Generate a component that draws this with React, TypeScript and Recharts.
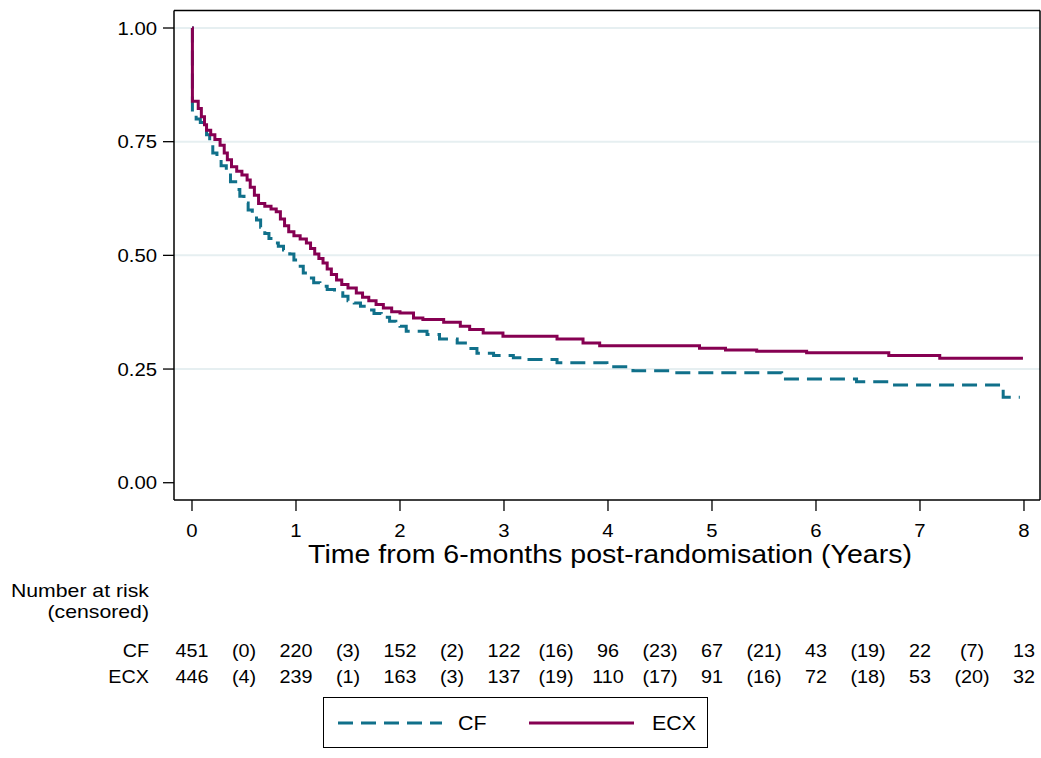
import {
    CartesianGrid,
    Label,
    Legend,
    Line,
    LineChart,
    ReferenceLine,
    XAxis,
    YAxis,
} from "recharts";

// Kaplan-Meier step points (years, survival)
const cfTimes = [
    0, 0.004, 0.04, 0.08, 0.11, 0.14, 0.17, 0.2, 0.24, 0.28, 0.33, 0.37, 0.42,
    0.46, 0.5, 0.54, 0.58, 0.62, 0.66, 0.7, 0.74, 0.78, 0.83, 0.88, 0.94, 0.98,
    1.02, 1.07, 1.12, 1.17, 1.23, 1.3, 1.37, 1.45, 1.5, 1.56, 1.62, 1.68, 1.75,
    1.82, 1.9, 1.96, 2.0, 2.06, 2.26, 2.38, 2.55, 2.65, 2.74, 2.9, 3.09, 3.22,
    3.51, 3.99, 4.24, 4.63, 5.67, 6.39, 6.7, 7.8, 7.96,
];
const cfSurv = [
    1.0, 0.81, 0.8, 0.792, 0.785, 0.765, 0.745, 0.725, 0.71, 0.697, 0.68, 0.662,
    0.645, 0.63, 0.615, 0.6, 0.59, 0.578, 0.562, 0.548, 0.537, 0.527, 0.52,
    0.512, 0.503, 0.49, 0.476, 0.461, 0.45, 0.44, 0.432, 0.425, 0.418, 0.41,
    0.4, 0.395, 0.388, 0.38, 0.372, 0.364, 0.355, 0.348, 0.344, 0.333, 0.326,
    0.316, 0.307, 0.295, 0.285, 0.28, 0.275, 0.271, 0.264, 0.255, 0.246, 0.242,
    0.228, 0.222, 0.215, 0.188, 0.188,
];
const ecxTimes = [
    0, 0.004, 0.06, 0.09, 0.12, 0.14, 0.18, 0.22, 0.27, 0.31, 0.34, 0.38, 0.43,
    0.48, 0.53, 0.56, 0.6, 0.64, 0.7, 0.76, 0.81, 0.85, 0.89, 0.93, 0.98, 1.04,
    1.1, 1.14, 1.18, 1.22, 1.26, 1.3, 1.34, 1.39, 1.44, 1.5, 1.58, 1.64, 1.7,
    1.77, 1.84, 1.92, 2.0, 2.13, 2.22, 2.42, 2.58, 2.67, 2.8, 2.99, 3.51, 3.76,
    3.92, 4.88, 5.13, 5.43, 5.91, 6.7, 7.19, 7.99,
];
const ecxSurv = [
    1.0, 0.839, 0.823, 0.805, 0.787, 0.775, 0.765, 0.755, 0.742, 0.725, 0.71,
    0.695, 0.685, 0.677, 0.666, 0.65, 0.632, 0.614, 0.608, 0.602, 0.596, 0.58,
    0.565, 0.552, 0.543, 0.536, 0.527, 0.515, 0.503, 0.493, 0.483, 0.47, 0.458,
    0.446, 0.436, 0.428, 0.417, 0.408, 0.4, 0.392, 0.384, 0.376, 0.373, 0.362,
    0.359, 0.353, 0.344, 0.337, 0.329, 0.322, 0.316, 0.307, 0.301, 0.296, 0.292,
    0.289, 0.286, 0.28, 0.274, 0.274,
];

// number at risk table
const riskYears = [0, 1, 2, 3, 4, 5, 6, 7, 8];
const cfAtRisk = [451, 220, 152, 122, 96, 67, 43, 22, 13];
const cfCensored = [0, 3, 2, 16, 23, 21, 19, 7];
const ecxAtRisk = [446, 239, 163, 137, 110, 91, 72, 53, 32];
const ecxCensored = [4, 1, 3, 19, 17, 16, 18, 20];

const yTicks = [0, 0.25, 0.5, 0.75, 1];

const cfData = cfTimes.map((t, i) => ({ t, s: cfSurv[i] }));
const ecxData = ecxTimes.map((t, i) => ({ t, s: ecxSurv[i] }));
const xTicks = riskYears.flatMap((y, i) =>
    i < riskYears.length - 1 ? [y, (y + riskYears[i + 1]) / 2] : [y]
);

const FONT = '"Liberation Sans", Arial, Helvetica, sans-serif';
const CF_COLOR = "#10708a";
const ECX_COLOR = "#860052";
const X_MIN = -0.173;
const X_MAX = 8.154;
const Y_MIN = -0.038;
const Y_MAX = 1.0385;

function SText({ x, y, anchor = "middle", size = 18, sx = 1.13, children }: any) {
    return (
        <text
            transform={`translate(${x},${y}) scale(${sx},1)`}
            textAnchor={anchor}
            fontSize={size}
            fontFamily={FONT}
            fill="#000"
        >
            {children}
        </text>
    );
}

function YTick({ x, y, payload }: any) {
    return (
        <SText x={x} y={y + 6.5} anchor="end">
            {payload.value.toFixed(2)}
        </SText>
    );
}

function XTick({ x, y, payload }: any) {
    const v = payload.value;
    const isYear = riskYears.includes(v);
    const col = Math.floor(v);
    const row = 17.5;
    return (
        <g>
            {isYear && (
                <>
                    <line x1={x} x2={x} y1={y} y2={y + 11} stroke="#000" strokeWidth={1.3} />
                    <SText x={x} y={y + 37}>{v}</SText>
                    <SText x={x} y={y + 157} size={row}>{cfAtRisk[riskYears.indexOf(v)]}</SText>
                    <SText x={x} y={y + 183} size={row}>{ecxAtRisk[riskYears.indexOf(v)]}</SText>
                </>
            )}
            {!isYear && (
                <>
                    <SText x={x} y={y + 157} size={row}>{`(${cfCensored[col]})`}</SText>
                    <SText x={x} y={y + 183} size={row}>{`(${ecxCensored[col]})`}</SText>
                </>
            )}
            {v === 0 && (
                <>
                    <SText x={x - 43} y={y + 97} anchor="end" size={18.8}>Number at risk</SText>
                    <SText x={x - 43} y={y + 118} anchor="end" size={18.8}>(censored)</SText>
                    <SText x={x - 43} y={y + 157} anchor="end" size={row}>CF</SText>
                    <SText x={x - 43} y={y + 183} anchor="end" size={row}>ECX</SText>
                </>
            )}
        </g>
    );
}

function XTitle({ viewBox }: any) {
    return (
        <SText x={viewBox.x + viewBox.width / 2 + 3} y={viewBox.y + 63} size={25.5} sx={1.12}>
            Time from 6-months post-randomisation (Years)
        </SText>
    );
}

function LegendBox() {
    return (
        <div
            style={{
                width: 385,
                height: 51,
                border: "1.5px solid #000",
                boxSizing: "border-box",
                background: "#fff",
            }}
        >
            <svg width={382} height={48} style={{ display: "block" }}>
                <line x1={14} x2={118} y1={25} y2={25} stroke={CF_COLOR} strokeWidth={3} strokeDasharray="15 8" />
                <SText x={134} y={32} anchor="start" size={19.5} sx={1.1}>CF</SText>
                <line x1={205} x2={310} y1={25} y2={25} stroke={ECX_COLOR} strokeWidth={3} />
                <SText x={328} y={32} anchor="start" size={19.5} sx={1.1}>ECX</SText>
            </svg>
        </div>
    );
}

export default function App() {
    return (
        <div style={{ position: "fixed", left: 0, top: 0, width: 1041, height: 758, background: "#fff" }}>
            <LineChart
                width={1041}
                height={758}
                margin={{ top: 10.5, right: 1, bottom: 8, left: 0 }}
            >
                <CartesianGrid
                    horizontal
                    vertical={false}
                    horizontalValues={[0.25, 0.5, 0.75, 1]}
                    stroke="#e6eff1"
                    strokeWidth={2}
                />
                <XAxis
                    dataKey="t"
                    type="number"
                    domain={[X_MIN, X_MAX]}
                    allowDataOverflow
                    ticks={xTicks}
                    interval={0}
                    tick={<XTick />}
                    tickLine={false}
                    tickSize={0}
                    tickMargin={0}
                    height={250}
                    axisLine={{ stroke: "#000", strokeWidth: 1.5 }}
                >
                    <Label content={<XTitle />} />
                </XAxis>
                <YAxis
                    type="number"
                    domain={[Y_MIN, Y_MAX]}
                    allowDataOverflow
                    ticks={yTicks}
                    interval={0}
                    width={174}
                    tickSize={11}
                    tickMargin={6}
                    tick={<YTick />}
                    tickLine={{ stroke: "#000", strokeWidth: 1.3 }}
                    axisLine={{ stroke: "#000", strokeWidth: 1.5 }}
                />
                <ReferenceLine x={X_MAX} stroke="#000" strokeWidth={1.5} ifOverflow="visible" />
                <ReferenceLine y={Y_MAX} stroke="#000" strokeWidth={1.5} ifOverflow="visible" />
                <Line
                    data={cfData}
                    dataKey="s"
                    type="stepAfter"
                    stroke={CF_COLOR}
                    strokeWidth={3}
                    strokeDasharray="15 8"
                    dot={false}
                    activeDot={false}
                    isAnimationActive={false}
                />
                <Line
                    data={ecxData}
                    dataKey="s"
                    type="stepAfter"
                    stroke={ECX_COLOR}
                    strokeWidth={3}
                    dot={false}
                    activeDot={false}
                    isAnimationActive={false}
                />
                <Legend
                    layout="horizontal"
                    verticalAlign="middle"
                    align="center"
                    wrapperStyle={{ position: "absolute", left: 323, top: 697, width: 385, height: 51 }}
                    content={<LegendBox />}
                />
            </LineChart>
        </div>
    );
}
